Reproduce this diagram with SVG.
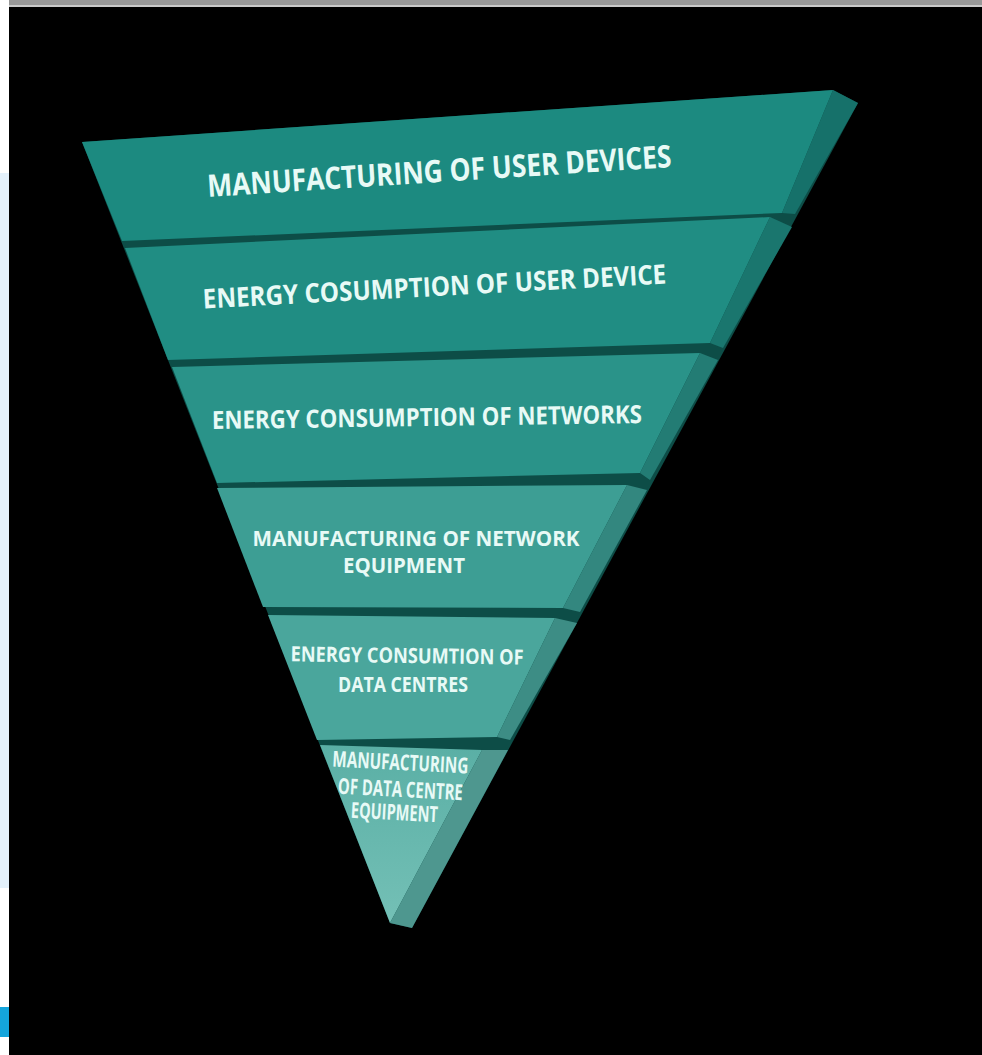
<svg xmlns="http://www.w3.org/2000/svg" width="982" height="1055" viewBox="0 0 982 1055">
  <style>
    .lbl { font-family: "Open Sans", "Noto Sans", "Liberation Sans", sans-serif; font-weight: 700; fill: #e8faf6; text-anchor: middle; }
  </style>
  <defs>
    <linearGradient id="g6" x1="0" y1="0" x2="0" y2="1">
      <stop offset="0" stop-color="#5aafa5"/>
      <stop offset="1" stop-color="#74c0b6"/>
    </linearGradient>
  </defs>
  <!-- frame -->
  <rect x="0" y="0" width="982" height="1055" fill="#ffffff"/>
  <rect x="0" y="173" width="9" height="715" fill="#e4f1fb"/>
  <rect x="0" y="1007" width="9" height="30" fill="#14a5dc"/>
  <rect x="9" y="0" width="973" height="5" fill="#989898"/>
  <rect x="9" y="5" width="973" height="2" fill="#c9c9c9"/>
  <rect x="9" y="7" width="973" height="1048" fill="#000000"/>

  <!-- silhouette / separators -->
  <polygon points="82,142 833,90 858,103 412,928 390,923" fill="#0d4d47"/>

  <g id="band1">
    <polygon points="82,142 833,90 782,213 122,241" fill="#1c8a80"/>
    <polygon points="833,90 858,103 795,214 782,213" fill="#16716a"/>
    <text class="lbl" x="440" y="182" font-size="31" textLength="465" lengthAdjust="spacingAndGlyphs" transform="rotate(-3.7 440 182)">MANUFACTURING OF USER DEVICES</text>
  </g>
  <g id="band2">
    <polygon points="125,248 770,217 710,343 168,360" fill="#208d83"/>
    <polygon points="770,217 792,227 723,348 710,343" fill="#1a766e"/>
    <text class="lbl" x="435" y="296" font-size="27" textLength="464" lengthAdjust="spacingAndGlyphs" transform="rotate(-3.1 435 296)">ENERGY COSUMPTION OF USER DEVICE</text>
  </g>
  <g id="band3">
    <polygon points="172,367 700,353 640,473 217,483" fill="#2a9389"/>
    <polygon points="700,353 718,360 650,480 640,473" fill="#237c74"/>
    <text class="lbl" x="427" y="426" font-size="25" textLength="430" lengthAdjust="spacingAndGlyphs" transform="rotate(-0.8 427 426)">ENERGY CONSUMPTION OF NETWORKS</text>
  </g>
  <g id="band4">
    <polygon points="217,488 627,485 563,608 263,607" fill="#3d9e94"/>
    <polygon points="627,485 647,490 580,612 563,608" fill="#33877f"/>
    <text class="lbl" x="416" y="546" font-size="21" textLength="327" lengthAdjust="spacingAndGlyphs">MANUFACTURING OF NETWORK</text>
    <text class="lbl" x="404" y="573" font-size="21" textLength="122" lengthAdjust="spacingAndGlyphs">EQUIPMENT</text>
  </g>
  <g id="band5">
    <polygon points="268,615 555,618 497,737 317,740" fill="#4aa69c"/>
    <polygon points="555,618 577,623 510,740 497,737" fill="#3d8d85"/>
    <text class="lbl" x="407" y="663" font-size="21" textLength="233" lengthAdjust="spacingAndGlyphs" transform="rotate(0.8 407 663)">ENERGY CONSUMTION OF</text>
    <text class="lbl" x="403" y="692" font-size="21" textLength="130" lengthAdjust="spacingAndGlyphs">DATA CENTRES</text>
  </g>
  <g id="band6">
    <polygon points="320,745 482,750 390,923" fill="url(#g6)"/>
    <polygon points="482,750 508,750 412,928 390,923" fill="#4e978f"/>
    <text class="lbl" x="400" y="770" font-size="22" textLength="136" lengthAdjust="spacingAndGlyphs" transform="rotate(3 400 770)">MANUFACTURING</text>
    <text class="lbl" x="400" y="797" font-size="22" textLength="125" lengthAdjust="spacingAndGlyphs" transform="rotate(3 400 797)">OF DATA CENTRE</text>
    <text class="lbl" x="394" y="820" font-size="22" textLength="87" lengthAdjust="spacingAndGlyphs" transform="rotate(3 394 820)">EQUIPMENT</text>
  </g>
  <g id="connectors"></g>
</svg>
